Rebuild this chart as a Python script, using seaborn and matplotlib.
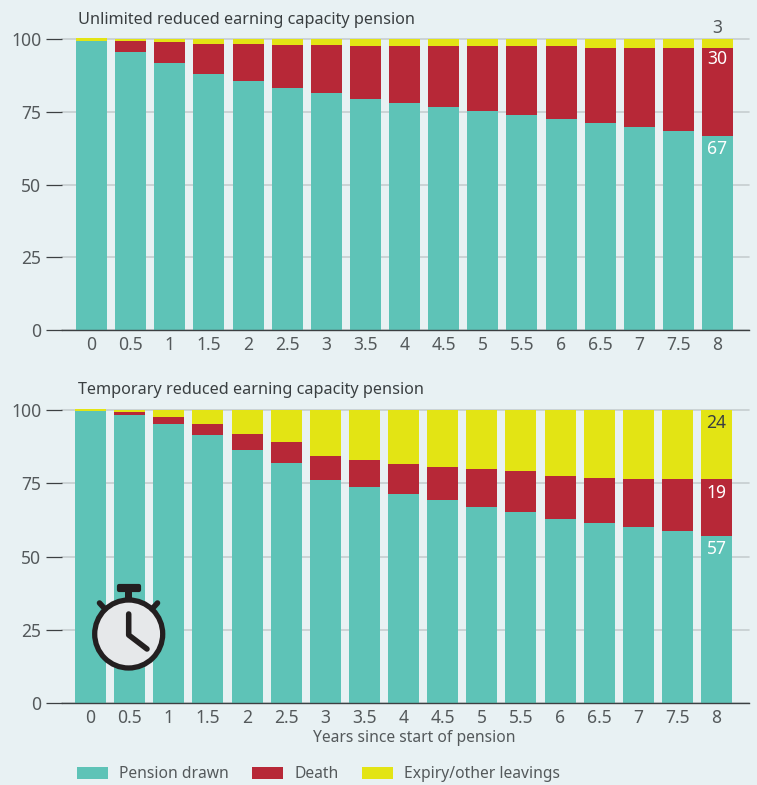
import matplotlib
matplotlib.use("Agg")
import matplotlib.pyplot as plt
from matplotlib.patches import Circle, FancyBboxPatch, Patch, Rectangle
import pandas as pd
import seaborn as sns

years = ["0", "0.5", "1", "1.5", "2", "2.5", "3", "3.5", "4", "4.5", "5", "5.5", "6", "6.5", "7", "7.5", "8"]

top_title = "Unlimited reduced earning capacity pension"
top_pension = [99.4, 95.8, 91.9, 88.2, 85.6, 83.4, 81.6, 79.5, 78.1, 76.7, 75.3, 74.0, 72.6, 71.2, 69.8, 68.4, 66.7]
top_death = [0.1, 3.6, 7.2, 10.2, 12.8, 14.6, 16.4, 18.2, 19.6, 21.0, 22.4, 23.7, 25.1, 25.8, 27.2, 28.6, 30.3]
top_expiry = [0.9, 0.6, 0.9, 1.6, 1.6, 2.0, 2.0, 2.3, 2.3, 2.3, 2.3, 2.3, 2.3, 3.0, 3.0, 3.0, 3.0]

bot_title = "Temporary reduced earning capacity pension"
bot_pension = [99.8, 98.4, 95.3, 91.6, 86.5, 82.0, 76.2, 73.9, 71.4, 69.3, 66.9, 65.2, 62.8, 61.5, 60.1, 58.8, 57.0]
bot_death = [0.0, 1.0, 2.4, 3.7, 5.4, 7.2, 8.2, 9.1, 10.2, 11.3, 13.0, 14.0, 14.7, 15.3, 16.4, 17.7, 19.5]
bot_expiry = [0.6, 0.6, 2.3, 4.7, 8.1, 10.8, 15.6, 17.0, 18.4, 19.4, 20.1, 20.8, 22.5, 23.2, 23.5, 23.5, 23.5]

series_names = ["Pension drawn", "Death", "Expiry/other leavings"]
y_ticks = [0, 25, 50, 75, 100]
x_axis_label = "Years since start of pension"

BG = "#e8f1f3"
COLORS = ["#5ec3b7", "#b72837", "#e3e414"]
INK = "#54595b"
FONT = "Noto Sans"
FS_TITLE = 11.7
FS_TICK = 12.6
FS_TEXT = 11.25
W, H = 757, 785

sns.set_theme(style="white")
plt.rcParams["font.family"] = [FONT, "DejaVu Sans"]

fig = plt.figure(figsize=(W / 100, H / 100), dpi=100, facecolor=BG)


def panel(title, pension, death, expiry, y100, y0, c0, cn, title_y, labels):
    left, right = 62, 748.5
    ax = fig.add_axes([left / W, 1 - y0 / H, (right - left) / W, (y0 - y100) / H])
    ax.set_facecolor("none")
    step = (cn - c0) / 16
    df = pd.DataFrame({"year": years, "pension": pension, "death": death, "expiry": expiry})
    df["t1"] = df["pension"]
    df["t2"] = df["t1"] + df["death"]
    df["t3"] = df["t2"] + df["expiry"]
    for col, color in zip(["t3", "t2", "t1"], COLORS[::-1]):
        sns.barplot(data=df, x="year", y=col, order=years, color=color, saturation=1,
                    width=31 / step, ax=ax, errorbar=None, clip_on=False, zorder=3, linewidth=0)
    ax.set_xlim((left - c0) / step, 16 + (right - cn) / step)
    ax.set_ylim(0, 100)
    ax.set_xlabel("")
    ax.set_ylabel("")
    ax.set_yticks(y_ticks)
    ax.grid(axis="y", color="#c6cdd0", lw=1.2, zorder=0)
    ax.set_axisbelow(True)
    for g in ax.get_ygridlines():
        g.set_clip_on(False)
    ax.tick_params(axis="y", length=16 * 0.72, width=0.9, color="#3c4042", pad=3.4,
                   labelsize=FS_TICK, labelcolor=INK, left=True)
    ax.tick_params(axis="x", length=0, pad=4.5, labelsize=FS_TICK, labelcolor=INK)
    sns.despine(ax=ax, left=True, top=True, right=True)
    ax.spines["bottom"].set_color("#3c4042")
    ax.spines["bottom"].set_linewidth(1.0)
    ax.spines["bottom"].set_zorder(4)
    fig.text(78 / W, 1 - title_y / H, title, fontsize=FS_TITLE, color="#3a3f41", va="center", ha="left")
    # end-of-row value labels, placed relative to the top of each segment
    tops = [df["t3"].iloc[-1], df["t2"].iloc[-1], df["t1"].iloc[-1]]
    for (txt, offs, col), t in zip(labels, tops):
        ax.annotate(txt, xy=(16, min(t, 100)), xytext=(0, offs * 0.72), textcoords="offset points",
                    ha="center", va="center", fontsize=FS_TICK, color=col, zorder=6, annotation_clip=False)
    return ax


ax1 = panel(top_title, top_pension, top_death, top_expiry, 39.4, 330, 91.5, 717.5, 20,
            [("3", 11.5, INK), ("30", -10.5, "white"), ("67", -12.5, "white")])
ax2 = panel(bot_title, bot_pension, bot_death, bot_expiry, 410.3, 703, 90.5, 716.5, 390,
            [("24", -12.5, "#3a3f41"), ("19", -13.5, "white"), ("57", -12.5, "white")])

fig.text(414 / W, 1 - 738.5 / H, x_axis_label, fontsize=FS_TEXT, color=INK, ha="center", va="center")

handles = [Patch(facecolor=c, edgecolor="none") for c in COLORS]
fig.legend(handles, series_names, loc="center left", bbox_to_anchor=(77 / W, 1 - 774 / H), ncol=3,
           frameon=False, fontsize=FS_TEXT, labelcolor=INK, borderpad=0, borderaxespad=0,
           handlelength=31 / 15.6, handleheight=0.8, handletextpad=0.7, columnspacing=1.5)

# stopwatch icon
ov = fig.add_axes([0, 0, 1, 1], zorder=10)
ov.set_xlim(0, W)
ov.set_ylim(H, 0)
ov.axis("off")
DARK = "#231f20"
ov.add_patch(FancyBboxPatch((119, 586), 20, 4, boxstyle="round,pad=0,rounding_size=0", fc=DARK, ec=DARK, lw=3, joinstyle="round"))
ov.add_patch(Rectangle((125.3, 590), 7, 12, fc=DARK, ec="none"))
ov.plot([99.5, 105], [603, 609], color=DARK, lw=4, solid_capstyle="round")
ov.plot([157.5, 152], [603, 609], color=DARK, lw=4, solid_capstyle="round")
ov.add_patch(Circle((128.7, 634), 34, fc="#e6e8ea", ec=DARK, lw=3.8))
ov.plot([128.7, 128.7, 147], [614, 635, 649], color=DARK, lw=4, solid_capstyle="round", solid_joinstyle="round")

fig.savefig("out.png", dpi=100, facecolor=BG)
